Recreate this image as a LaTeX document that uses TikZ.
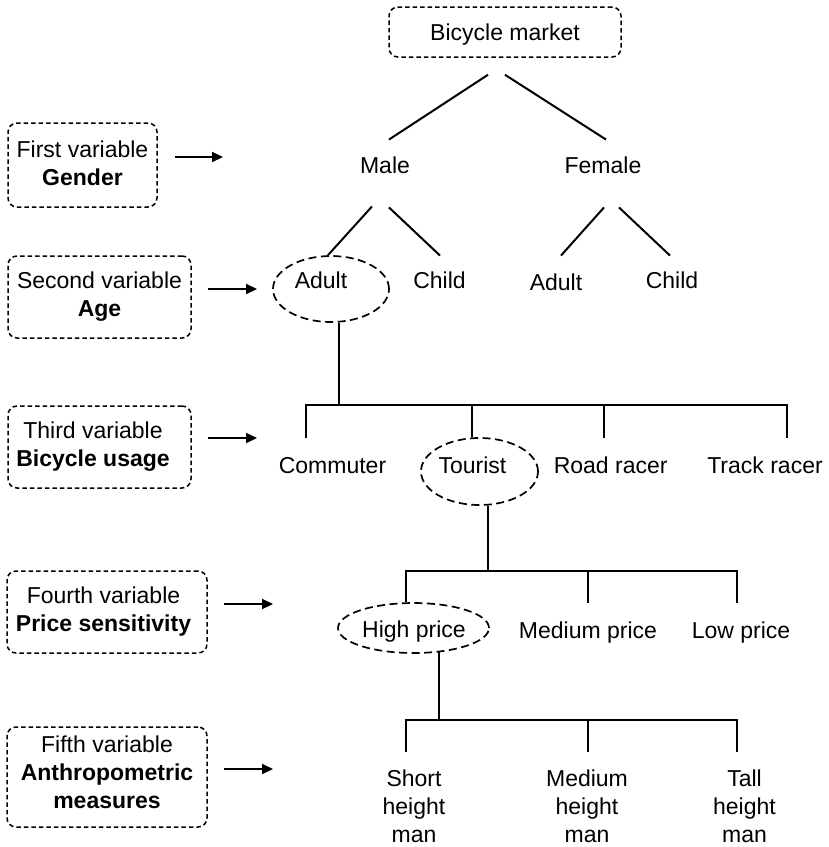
\documentclass[tikz,border=0pt]{standalone}
\usepackage{fontspec}
\setmainfont{Liberation Sans}
\usetikzlibrary{arrows.meta,shapes.geometric}
\begin{document}
\begin{tikzpicture}[x=1pt,y=-1pt,
  every node/.style={font=\fontsize{23}{28}\selectfont, inner sep=0pt},
  txt/.style={text height=16.5pt, text depth=0pt},
  varbox/.style={draw, dash pattern=on 4.5pt off 3pt, line width=1.5pt, rounded corners=9pt},
  oval/.style={ellipse, draw, dash pattern=on 8pt off 4.5pt, line width=1.7pt},
  tree/.style={line width=2pt},
  varrow/.style={line width=2.2pt, -{Triangle[length=11pt,width=10pt]}},
  multi/.style={align=center, anchor=north}]
\path[fill=white] (0,0) rectangle (829,847);
\useasboundingbox (0,0) rectangle (829,847);

% variable boxes
\node[varbox, align=center, minimum width=149pt, minimum height=84pt] (v1) at (82.5,165)
  {First variable\\\textbf{Gender}\rule[-4pt]{0pt}{4pt}};
\node[varbox, align=center, minimum width=183pt, minimum height=82pt] (v2) at (99.5,297)
  {Second variable\\\textbf{Age}};
\node[varbox, align=center, minimum width=183pt, minimum height=82pt] (v3) at (99.5,447)
  {\hspace*{-13pt}Third variable\\\hspace*{-13pt}\textbf{Bicycle usage}};
\node[varbox, align=center, minimum width=200pt, minimum height=82pt] (v4) at (107,612)
  {\hspace*{-7pt}Fourth variable\\\hspace*{-7pt}\textbf{Price sensitivity}};
\node[varbox, align=center, minimum width=200pt, minimum height=100pt] (v5) at (107,777)
  {Fifth variable\\\textbf{Anthropometric}\\\textbf{measures}\rule[-9pt]{0pt}{9pt}};

% arrows
\coordinate (a1) at (223,157);
\coordinate (a2) at (257,289);
\coordinate (a3) at (257,438);
\coordinate (a4) at (273,604);
\coordinate (a5) at (273,769);
\draw[varrow] ([shift={(17,-8)}]v1.east) -- (a1);
\draw[varrow] ([shift={(16,-8)}]v2.east) -- (a2);
\draw[varrow] ([shift={(16,-9)}]v3.east) -- (a3);
\draw[varrow] ([shift={(16,-8)}]v4.east) -- (a4);
\draw[varrow] ([shift={(16,-8)}]v5.east) -- (a5);

% tree nodes
\node[varbox, txt, minimum width=232pt, minimum height=50pt] (bm) at (505,32) {Bicycle market};
\node[txt] (male) at (385,165) {Male};
\node[txt] (female) at (603,165) {Female};
\node[oval, minimum width=116pt, minimum height=66pt] (adultE) at (331,289) {};
\node[txt] (madult) at (321,280) {Adult};
\node[txt] (mchild) at (439.5,280) {Child};
\node[txt] (fadult) at (556,282) {Adult};
\node[txt] (fchild) at (672,280) {Child};
\node[txt] (commuter) at (332.5,465) {Commuter};
\node[oval, minimum width=117pt, minimum height=67pt] (tourE) at (479.5,471.5) {};
\node[txt] (tourist) at (472.5,465) {Tourist};
\node[txt] (road) at (610.7,465) {Road racer};
\node[txt] (track) at (765,465) {Track racer};
\node[oval, minimum width=151pt, minimum height=50pt] (highE) at (413.5,628) {};
\node[txt] (high) at (414,629) {High price};
\node[txt] (medp) at (588,630) {Medium price};
\node[txt] (lowp) at (741,630) {Low price};
\node[multi] (shortm) at (414,770) {Short\\height\\man};
\node[multi] (medm) at (587,770) {Medium\\height\\man};
\node[multi] (tallm) at (744.5,770) {Tall\\height\\man};

% level 1 and 2 connectors
\draw[tree] ([shift={(-17,17)}]bm.south) -- ([shift={(4,-17)}]male.north);
\draw[tree] ([shift={(0,17)}]bm.south) -- ([shift={(3,-17)}]female.north);
\draw[tree] ([shift={(-13,33)}]male.south) -- ([xshift=-3]adultE.north);
\draw[tree] ([shift={(4,34)}]male.south) -- ([shift={(0.5,-16)}]mchild.north);
\draw[tree] ([shift={(1,34)}]female.south) -- ([shift={(5,-18)}]fadult.north);
\draw[tree] ([shift={(16,34)}]female.south) -- ([shift={(-2,-16)}]fchild.north);

% level 3
\coordinate (j3) at (339,405);
\coordinate (dcomm) at (306,438);
\coordinate (droad) at (604,438);
\coordinate (dtrack) at (787,438);
\draw[tree] ([xshift=8]adultE.south) -- (j3);
\draw[tree] (dcomm) |- (j3) -| (dtrack);
\draw[tree] ([xshift=-8]tourE.north) |- (j3);
\draw[tree] (droad) -- (droad |- j3);

% level 4
\coordinate (j4) at (488,571);
\coordinate (dmedp) at (588,603);
\coordinate (dlowp) at (737,603);
\draw[tree] ([xshift=8.5]tourE.south) -- (j4);
\draw[tree] ([xshift=-8]highE.north) |- (j4) -| (dlowp);
\draw[tree] (dmedp) -- (dmedp |- j4);

% level 5
\coordinate (j5) at (439,720);
\coordinate (dshort) at (405.7,752);
\coordinate (dmedm) at (588,752);
\coordinate (dtall) at (737,752);
\draw[tree] ([xshift=25.5,yshift=1.5]highE.south) -- (j5);
\draw[tree] (dshort) |- (j5) -| (dtall);
\draw[tree] (dmedm) -- (dmedm |- j5);
\end{tikzpicture}
\end{document}
